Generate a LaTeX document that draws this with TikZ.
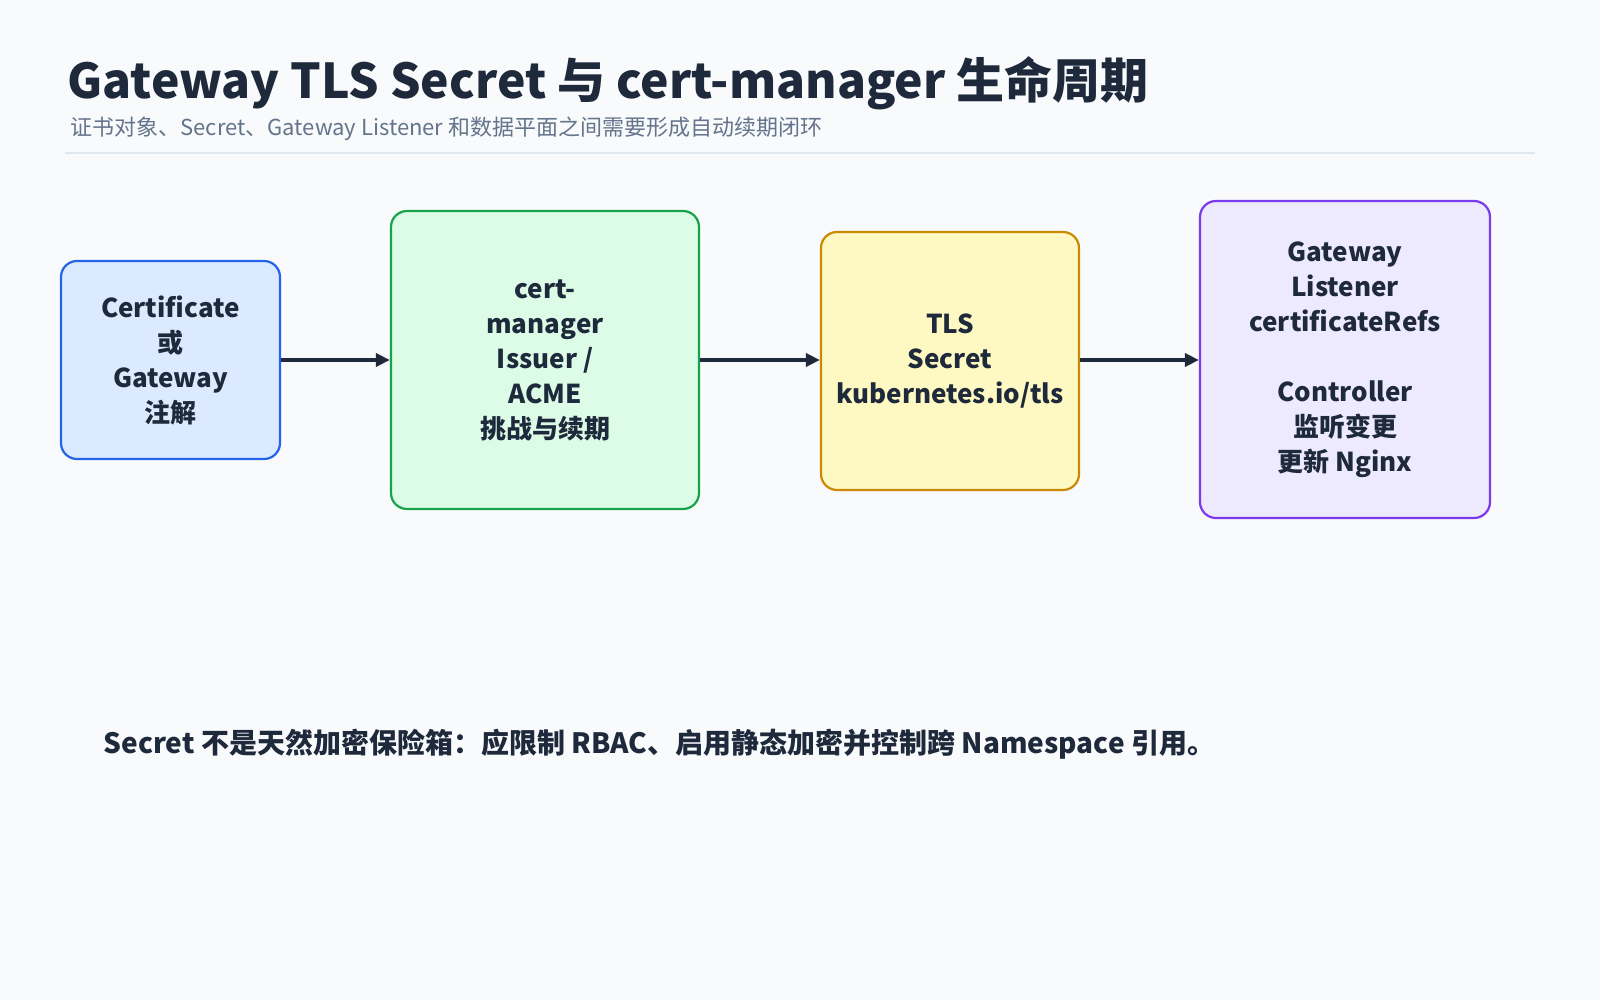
\documentclass[tikz,border=0pt]{standalone}
\usepackage{fontspec}
\setmainfont{Noto Sans CJK SC}
\newfontfamily\cjkb{Noto Sans CJK SC Bold}
\usetikzlibrary{arrows.meta}
\definecolor{bg}{HTML}{F8FAFC}
\definecolor{ink}{HTML}{1E293B}
\definecolor{sub}{HTML}{64748B}
\definecolor{rule}{HTML}{E2E8F0}
\definecolor{bB}{HTML}{2563EB}\definecolor{fB}{HTML}{DBEAFE}
\definecolor{bG}{HTML}{16A34A}\definecolor{fG}{HTML}{DCFCE7}
\definecolor{bY}{HTML}{CA8A04}\definecolor{fY}{HTML}{FEF9C3}
\definecolor{bP}{HTML}{7C3AED}\definecolor{fP}{HTML}{EDE9FE}
\begin{document}
\begin{tikzpicture}[x=1pt,y=-1pt,
  box/.style={draw=#1,line width=2.2pt,rounded corners=16pt,align=center,text=ink,
    font=\fontsize{26}{35}\selectfont\bfseries,inner sep=0pt},
  arr/.style={-{Triangle[length=14pt,width=13pt]},line width=3.5pt,draw=ink}]
\fill[bg] (0,0) rectangle (1600,1000);
\useasboundingbox (0,0) rectangle (1600,1000);
\node[anchor=base west,text=ink,font=\fontsize{48}{56}\selectfont\bfseries] (title) at (64,99) {Gateway TLS Secret 与 cert-manager 生命周期};
\node[anchor=base west,text=sub,font=\fontsize{22}{26}\selectfont] (subt) at (67,136) {证书对象、Secret、Gateway Listener 和数据平面之间需要形成自动续期闭环};
\draw[rule,line width=2pt] (65,153) -- (1535,153);
\node[box=bB,fill=fB,minimum width=219pt,minimum height=198pt] (a) at (170.5,360) {Certificate\\或\\Gateway\\注解};
\node[box=bG,fill=fG,minimum width=308pt,minimum height=298pt] (b) at (545,360) {cert-\\manager\\Issuer /\\ACME\\挑战与续期};
\node[box=bY,fill=fY,minimum width=258pt,minimum height=258pt] (c) at (950,361) {TLS\\Secret\\kubernetes.io/tls};
\node[box=bP,fill=fP,minimum width=290pt,minimum height=317pt] (d) at (1345,359.5) {Gateway\\Listener\\certificateRefs\\[35pt]Controller\\监听变更\\更新 Nginx};
\draw[arr] (a.east) -- (b.west|-a.east);
\draw[arr] (b.east) -- (c.west|-b.east);
\draw[arr] (c.east|-b.east) -- (d.west|-b.east);
\node[anchor=base west,text=ink,font=\fontsize{28}{32}\selectfont\bfseries] (note) at (100,753) {Secret 不是天然加密保险箱：应限制 RBAC、启用静态加密并控制跨 Namespace 引用。};
\end{tikzpicture}
\end{document}
